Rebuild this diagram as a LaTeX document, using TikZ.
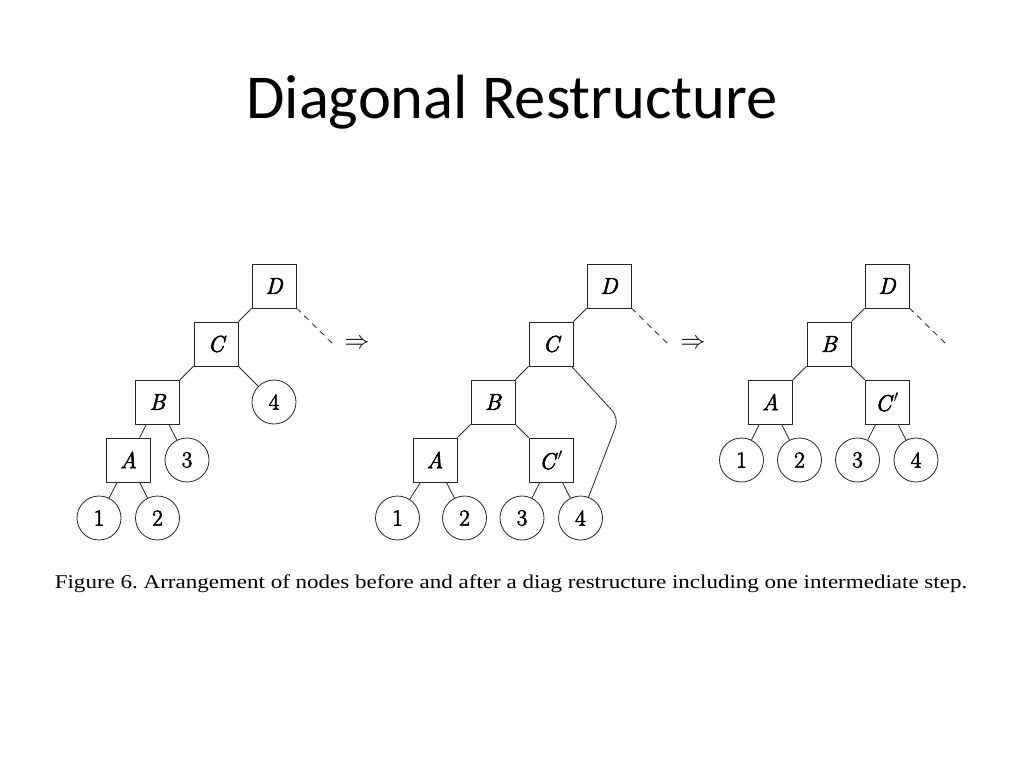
\documentclass[tikz,border=0pt]{standalone}
\usepackage{fontspec}
\newfontfamily\titlefont{Carlito}
\newfontfamily\capfont{Liberation Serif}
\newfontfamily\lblfont[FakeBold=2.5]{Latin Modern Roman}
\begin{document}
\begin{tikzpicture}[x=1pt,y=-1pt,
  line width=0.8pt,
  sq/.style={draw=black!85, minimum size=44pt, inner sep=0pt, font=\lblfont\fontsize{23}{26}\selectfont\itshape},
  leaf/.style={draw=black!85, circle, minimum size=44pt, inner sep=0pt, font=\lblfont\fontsize{23}{26}\selectfont},
  edge/.style={draw=black!85},
  dotted link/.style={draw=black!85, dash pattern=on 6pt off 5pt},
  implies/.style={font=\fontsize{33}{34}\selectfont}]
\useasboundingbox (0,0) rectangle (1024,768);
\fill[white] (0,0) rectangle (1024,768);

\node[font=\titlefont\fontsize{62.5}{66}\selectfont, anchor=base] (title) at (512,118) {Diagonal Restructure};

% ---- left tree
\node[sq] (LD) at (274,286) {D};
\node[sq] (LC) at (216,344) {C};
\node[sq] (LB) at (157.5,402) {B};
\node[sq] (LA) at (128.5,460) {A};
\node[leaf] (L3) at (187,460) {3};
\node[leaf] (L4) at (274,402) {4};
\node[leaf] (L1) at (99,518) {1};
\node[leaf] (L2) at (157.5,518) {2};
\coordinate (Lend) at (333,344);
\draw[edge] (LD) -- (LC);
\draw[edge] (LC) -- (LB);
\draw[edge] (LC) -- (L4);
\draw[edge] (LB) -- (LA);
\draw[edge] (LB) -- (L3);
\draw[edge] (LA) -- (L1);
\draw[edge] (LA) -- (L2);
\draw[dotted link] (LD) -- (Lend);
\node[implies] (imp1) at (357,344) {$\Rightarrow$};

% ---- middle tree
\node[sq] (MD) at (609,286) {D};
\node[sq] (MC) at (551,344) {C};
\node[sq] (MB) at (493,402) {B};
\node[sq] (MA) at (435,460) {A};
\node[sq] (MCp) at (551,460) {C\/$'$};
\node[leaf] (M1) at (397.5,518) {1};
\node[leaf] (M2) at (464.5,518) {2};
\node[leaf] (M3) at (522,518) {3};
\node[leaf] (M4) at (580.5,518) {4};
\coordinate (Mbend) at (619,418);
\coordinate (Mend) at (668,344);
\draw[edge] (MD) -- (MC);
\draw[edge] (MC) -- (MB);
\draw[edge] (MB) -- (MA);
\draw[edge] (MB) -- (MCp);
\draw[edge] (MA) -- (M1);
\draw[edge] (MA) -- (M2);
\draw[edge] (MCp) -- (M3);
\draw[edge] (MCp) -- (M4);
\draw[edge, rounded corners=10pt] (MC) -- (Mbend) -- (M4);
\draw[dotted link] (MD) -- (Mend);
\node[implies] (imp2) at (693,344) {$\Rightarrow$};

% ---- right tree
\node[sq] (RD) at (887,286) {D};
\node[sq] (RB) at (829,344) {B};
\node[sq] (RA) at (770.5,402) {A};
\node[sq] (RCp) at (887,402) {C\/$'$};
\node[leaf] (R1) at (741.5,460) {1};
\node[leaf] (R2) at (799.5,460) {2};
\node[leaf] (R3) at (857.5,460) {3};
\node[leaf] (R4) at (916,460) {4};
\coordinate (Rend) at (946,344);
\draw[edge] (RD) -- (RB);
\draw[edge] (RB) -- (RA);
\draw[edge] (RB) -- (RCp);
\draw[edge] (RA) -- (R1);
\draw[edge] (RA) -- (R2);
\draw[edge] (RCp) -- (R3);
\draw[edge] (RCp) -- (R4);
\draw[dotted link] (RD) -- (Rend);

\node[font=\capfont\fontsize{19.5}{21}\selectfont, anchor=base] (caption) at (511,588) {\scalebox{1.18}[1]{Figure 6.\ Arrangement of nodes before and after a diag restructure including one intermediate step.}};
\end{tikzpicture}
\end{document}
